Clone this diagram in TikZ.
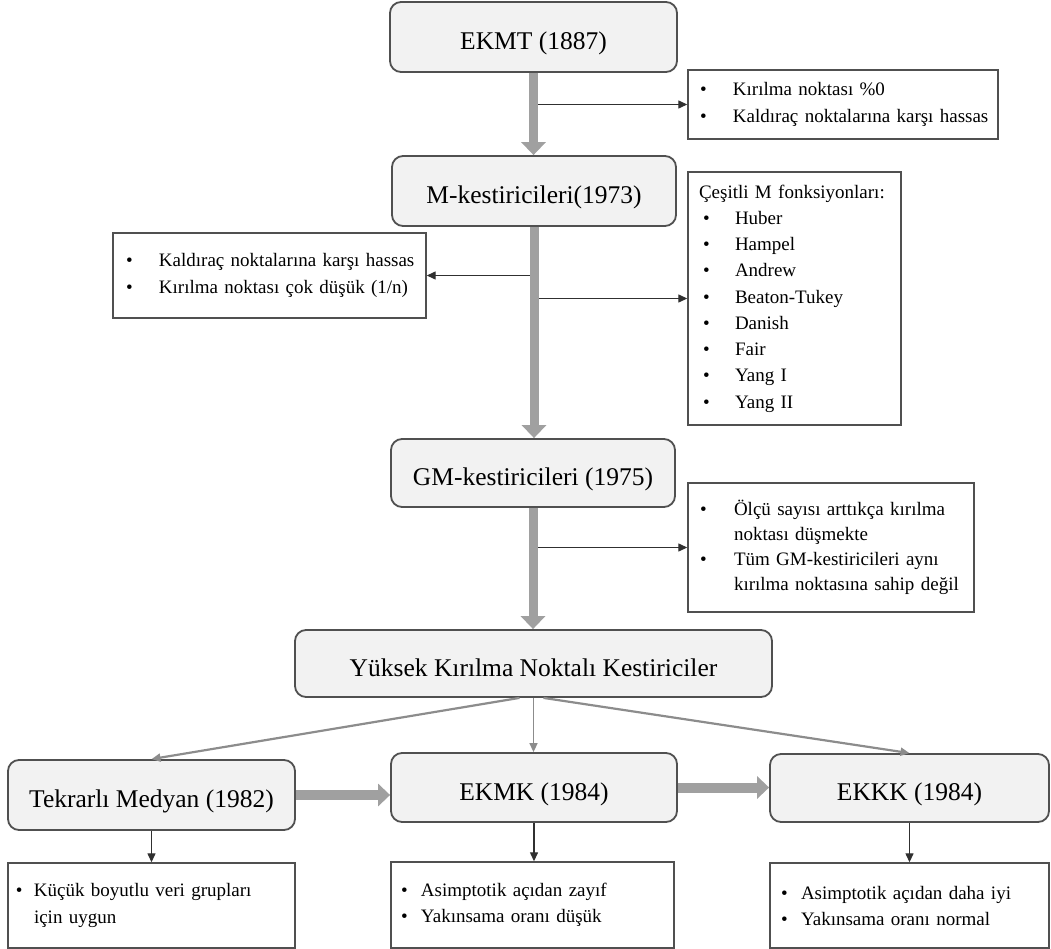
\documentclass[tikz,border=0pt]{standalone}
\usepackage{fontspec}
\setmainfont{Liberation Serif}
\usetikzlibrary{arrows.meta,calc}

\definecolor{boxfill}{HTML}{F2F2F2}
\definecolor{boxline}{HTML}{505050}
\definecolor{shaft}{HTML}{A0A0A0}
\definecolor{thinline}{HTML}{303030}
\definecolor{diag}{HTML}{8C8C8C}

\tikzset{
  titlebox/.style={draw=boxline, fill=boxfill, line width=1.8pt, rounded corners=11pt,
    inner sep=0pt, font=\fontsize{25.5}{30}\selectfont, text height=25pt, text depth=0pt},
  notebox/.style={draw=boxline, fill=white, line width=1.4pt, inner xsep=13pt,
    inner ysep=0pt, align=left},
  bigarrow/.style={draw=shaft, line width=9pt, -{Triangle[width=24pt,length=13pt]}},
  sidearrow/.style={draw=shaft, line width=10pt, -{Triangle[width=22pt,length=12pt]}},
  ptr/.style={draw=thinline, line width=1.3pt, -{Triangle[width=8pt,length=9pt]}},
  fork/.style={draw=diag, line width=2.2pt, -{Triangle[width=8pt,length=9pt]}},
}
% one unbreakable line of a note, optionally led by a bullet in a fixed slot
\newcommand{\itembul}[2][33pt]{\mbox{\makebox[#1][l]{\textbullet}#2}}
\newcommand{\itemcont}[2][33pt]{\mbox{\hspace*{#1}#2}}
\newcommand{\notefont}[1]{\fontsize{19}{#1}\selectfont}

\begin{document}
\begin{tikzpicture}[x=1pt,y=-1pt]
\useasboundingbox (0,0) rectangle (1051,949);

% main chain of estimators
\node[titlebox, minimum width=287pt, minimum height=70pt] (ekmt) at (533.5,37) {EKMT (1887)};
\node[titlebox, minimum width=284pt, minimum height=70pt] (mk) at (534,191) {M-kestiricileri(1973)};
\node[titlebox, minimum width=284pt, minimum height=68pt] (gm) at (533,473) {GM-kestiricileri (1975)};
\node[titlebox, minimum width=477pt, minimum height=67pt] (yk) at (533.5,663.5) {Yüksek Kırılma Noktalı Kestiriciler};
\node[titlebox, minimum width=287pt, minimum height=70pt] (tek) at (151.5,795) {Tekrarlı Medyan (1982)};
\node[titlebox, minimum width=286pt, minimum height=69pt] (ekmk) at (534,787.5) {EKMK (1984)};
\node[titlebox, minimum width=279pt, minimum height=68pt] (ekkk) at (909.5,788) {EKKK (1984)};

% notes
\node[notebox, text width=286pt, inner xsep=12pt, minimum height=69pt, font=\notefont{27}] (r1) at (843,104.5)
  {\itembul{Kırılma noktası \%0}\\ \itembul{Kaldıraç noktalarına karşı hassas}};
\node[notebox, text width=287pt, minimum height=85pt, font=\notefont{27}] (lb) at (269.5,275.5)
  {\itembul{Kaldıraç noktalarına karşı hassas}\\ \itembul{Kırılma noktası çok düşük (1/n)}};
\node[notebox, inner xsep=11pt, text width=191pt, minimum height=253pt, font=\notefont{26.25}] (cs) at (794.5,298.5)
  {\mbox{Çeşitli M fonksiyonları:}\\
   \hspace*{4pt}\itembul[32pt]{Huber}\\
   \hspace*{4pt}\itembul[32pt]{Hampel}\\
   \hspace*{4pt}\itembul[32pt]{Andrew}\\
   \hspace*{4pt}\itembul[32pt]{Beaton-Tukey}\\
   \hspace*{4pt}\itembul[32pt]{Danish}\\
   \hspace*{4pt}\itembul[32pt]{Fair}\\
   \hspace*{4pt}\itembul[32pt]{Yang I}\\
   \hspace*{4pt}\itembul[32pt]{Yang II}};
\node[notebox, text width=262pt, inner xsep=12pt, minimum height=129pt, font=\notefont{25}] (r3) at (831,547.5)
  {\itembul[34pt]{Ölçü sayısı arttıkça kırılma}\\
   \itemcont[34pt]{noktası düşmekte}\\
   \itembul[34pt]{Tüm GM-kestiricileri aynı}\\
   \itemcont[34pt]{kırılma noktasına sahip değil}};
\node[notebox, inner xsep=8pt, text width=271pt, minimum height=85pt, font=\notefont{27}] (b1) at (151.5,905.5)
  {\itembul[18pt]{Küçük boyutlu veri grupları}\\ \itemcont[18pt]{için uygun}};
\node[notebox, inner xsep=10pt, text width=263pt, minimum height=86pt, font=\notefont{26}] (b2) at (532.5,905)
  {\itembul[20pt]{Asimptotik açıdan zayıf}\\ \itembul[20pt]{Yakınsama oranı düşük}};
\node[notebox, inner xsep=11pt, text width=257pt, minimum height=85pt, font=\notefont{26}] (b3) at (909.5,905.5)
  {\itembul[20pt]{Asimptotik açıdan daha iyi}\\ \itembul[20pt]{Yakınsama oranı normal}};

% side pointers leaving the main shafts
\draw[ptr] (r1.west -| ekmt.south) -- (r1.west);
\draw[ptr] (lb.east -| mk.south) -- (lb.east);
\draw[ptr] (cs.west -| mk.south) -- (cs.west);
\draw[ptr] (r3.west -| gm.south) -- (r3.west);

% thick vertical shafts
\draw[bigarrow] (ekmt.south) -- (ekmt.south |- mk.north);
\draw[bigarrow] (mk.south) -- (mk.south |- gm.north);
\draw[bigarrow] (gm.south) -- (gm.south |- yk.north);

% fork to the high-breakdown estimators
\draw[fork] ($(yk.south)+(-14,0)$) -- (tek.north);
\draw[fork, line width=1.5pt] (yk.south) -- (yk.south |- ekmk.north);
\draw[fork] ($(yk.south)+(10,0)$) -- (ekkk.north);

% thick horizontal links
\draw[sidearrow] (tek.east) -- (tek.east -| ekmk.west);
\draw[sidearrow] (ekmk.east) -- (ekmk.east -| ekkk.west);

% pointers to the bottom notes
\draw[ptr] (tek.south) -- (tek.south |- b1.north);
\draw[ptr] (ekmk.south) -- (ekmk.south |- b2.north);
\draw[ptr] (ekkk.south) -- (ekkk.south |- b3.north);
\end{tikzpicture}
\end{document}
